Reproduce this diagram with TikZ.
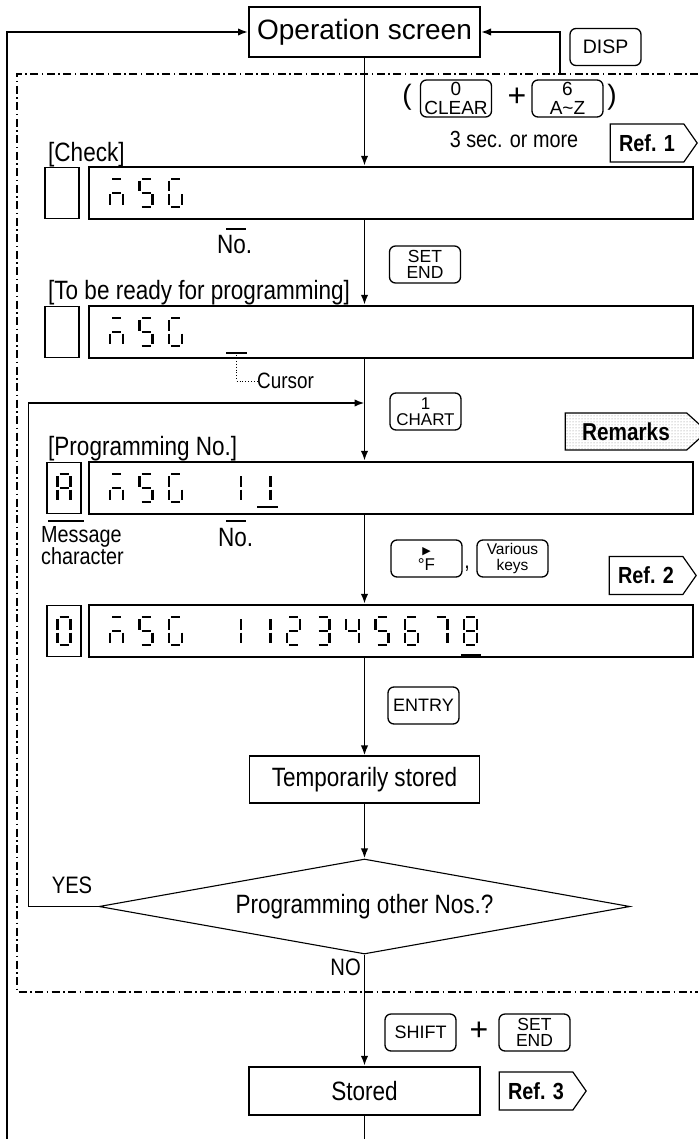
\documentclass[tikz,border=0pt]{standalone}
\usepackage{fontspec}
\setmainfont{Liberation Sans}[FakeStretch=0.85]
\newfontfamily\widefont{Liberation Sans}
\newfontfamily\symfont{DejaVu Sans}
\usepackage{tikz}
\usetikzlibrary{arrows.meta,shapes.geometric,shapes.symbols,patterns}

\newcommand\fsz[1]{\fontsize{#1}{#1}\selectfont}

\def\lcdsega{(2,0) -- (11,0)}
\def\lcdsegb{(13,2) -- (13,12.5)}
\def\lcdsegc{(13,15.5) -- (13,26)}
\def\lcdsegd{(2,28) -- (11,28)}
\def\lcdsege{(0,15.5) -- (0,26)}
\def\lcdsegf{(0,2) -- (0,12.5)}
\def\lcdsegg{(2,14) -- (11,14)}

\newcommand\lcdrow[2]{%
  \foreach \cx/\cs in {#2}{
    \foreach \s in \cs {\draw[seg, shift={(\cx,#1)}] \csname lcdseg\s\endcsname;}
  }}

\begin{document}
\begin{tikzpicture}[
  x=1pt,
  y=-1pt,
  font=\fsz{26.5},
  >={Latex[length=10pt,width=7.5pt]},
  flow/.style={->, line width=1.9pt},
  link/.style={line width=1.9pt},
  dashframe/.style={line width=1.3pt, dash pattern=on 8pt off 3.5pt on 1.5pt off 3.5pt},
  leader/.style={line width=0.9pt, dotted},
  screen/.style={draw, line width=2pt, minimum width=231pt, minimum height=50pt,
    inner sep=0pt, font=\widefont\fsz{28}},
  lcd/.style={draw, line width=2.4pt, minimum width=604pt, minimum height=52pt, inner sep=0pt},
  charbox/.style={draw, line width=1.2pt, minimum width=34pt, minimum height=51pt, inner sep=0pt},
  seg/.style={line width=2.6pt},
  cursorbar/.style={line width=2pt},
  keycap/.style={draw, line width=1.3pt, rounded corners=6pt, minimum width=71pt,
    minimum height=37pt, inner sep=0pt, align=center, font=\widefont\fsz{18}},
  tag/.style={draw, line width=1.2pt, shape=signal, signal to=east, signal pointer angle=110,
    minimum width=87pt, minimum height=38pt, inner sep=0pt, font=\bfseries\fsz{23.3}},
  procbox/.style={draw, line width=1.1pt, minimum width=230pt, minimum height=47pt, inner sep=0pt},
  decision/.style={draw, line width=1.1pt, shape=diamond, aspect=5.6, minimum width=531pt,
    minimum height=95pt, inner sep=0pt},
  note/.style={inner sep=0pt}
]
\useasboundingbox (0,0) rectangle (698,1139);

\draw[dashframe] (698,74) -- (17,74) -- (17,992) -- (698,992);

\node[screen] (opscr) at (364.5,32) {Operation screen};
\node[keycap, font=\widefont\fsz{19.5}] (disp) at (605.5,47) {DISP};
\node[note, font=\widefont\fsz{28}] (lpar) at (407,97) {(};
\node[keycap, font=\widefont\fontsize{19}{19}\selectfont] (clear) at (456,98.5) {0\\CLEAR};
\node[note, font=\widefont\fsz{32}] (plus1) at (517,97) {+};
\node[keycap, font=\widefont\fontsize{19}{19}\selectfont] (atoz) at (567.5,98.5)
  {6\\A\textasciitilde Z};
\node[note, font=\widefont\fsz{28}] (rpar) at (612,97) {)};
\node[note, font=\fsz{23.3}] (hold) at (514,139) {3 sec. or more};
\node[tag] (ref1) at (647,143) {Ref. 1};

\node[note, anchor=base west] (checklbl) at (48,162) {[Check]};
\node[lcd] (lcd1) at (391,193) {};
\node[charbox] (chr1) at (62,193) {};
\lcdrow{179}{110/{a,c,e,g}, 139.5/{a,c,d,f,g}, 169/{a,c,d,e,f}}
\node[note, anchor=base west] (no1) at (217,254) {No.};
\draw[cursorbar] (226,229) -- (246,229);
\node[keycap, font=\widefont\fontsize{17.5}{16.5}\selectfont] (setend1) at (425,264.5) {SET\\END};

\node[note, anchor=base west] (readylbl) at (48,299) {[To be ready for programming]};
\node[lcd] (lcd2) at (391,332) {};
\node[charbox] (chr2) at (62,332) {};
\lcdrow{318}{110/{a,c,e,g}, 139.5/{a,c,d,f,g}, 169/{a,c,d,e,f}}
\draw[cursorbar] (226,353) -- (247,353);
\coordinate (cur2) at (236.5,355);
\node[note, anchor=west, font=\fsz{22.2}] (cursortxt) at (257,381) {Cursor};
\draw[leader] (cur2) |- (cursortxt.west);
\node[keycap, font=\widefont\fontsize{17}{16}\selectfont] (chart) at (425.5,411.5) {1\\CHART};
\node[tag, signal pointer angle=84, minimum width=142pt, minimum height=37pt,
  pattern=dots, pattern color=black!50, font=\bfseries\fsz{24.4}] (remarks) at (626,431.5) {Remarks};

\node[note, anchor=base west] (proglbl) at (48,455) {[Programming No.]};
\node[lcd] (lcd3) at (391,488) {};
\node[charbox] (chr3) at (64,488) {};
\lcdrow{474}{57.5/{a,b,c,e,f,g}, 110/{a,c,e,g}, 139.5/{a,c,d,f,g}, 169/{a,c,d,e,f},
  228/{b,c}, 257.5/{b,c}}
\draw[cursorbar] (257,507) -- (278,507);
\draw[cursorbar] (48,521) -- (84,521);
\draw[cursorbar] (226,521) -- (246,521);
\node[note, anchor=north west, align=left, font=\fontsize{23.3}{21}\selectfont] (msg) at (41,526)
  {Message\\character};
\node[note, anchor=base west] (no2) at (218,546) {No.};
\node[keycap, font=\widefont\fontsize{17}{16}\selectfont] (fkey) at (426.5,558.5)
  {{\symfont\fsz{11}▶}\\°F};
\node[note, anchor=base, font=\fsz{23}] (comma) at (467,568) {,};
\node[keycap, font=\widefont\fontsize{15.5}{16}\selectfont] (various) at (512.5,558.5)
  {Various\\keys};
\node[tag] (ref2) at (646,575.5) {Ref. 2};

\node[lcd] (lcd4) at (391,631) {};
\node[charbox] (chr4) at (64,631) {};
\lcdrow{617}{57.5/{a,b,c,d,e,f}, 110/{a,c,e,g}, 139.5/{a,c,d,f,g}, 169/{a,c,d,e,f},
  228/{b,c}, 257.5/{b,c}, 287/{a,b,d,e,g}, 316.5/{a,b,c,d,g}, 346/{b,c,f,g},
  375.5/{a,c,d,f,g}, 405/{a,c,d,e,f,g}, 434.5/{a,b,c}, 464/{a,b,c,d,e,f,g}}
\draw[cursorbar] (461,655) -- (481,655);
\node[keycap] (entry) at (423.5,705.5) {ENTRY};

\node[procbox] (temp) at (364.5,779.5) {Temporarily stored};
\node[decision] (decide) at (364.5,906.5) {Programming other Nos.?};
\node[note, font=\fsz{23.8}] (yes) at (72,885) {YES};
\node[note, anchor=east, font=\fsz{23.8}] (no) at (361,967) {NO};

\node[keycap] (shift) at (420.5,1032.5) {SHIFT};
\node[note, font=\widefont\fsz{32}] (plus2) at (479,1031) {+};
\node[keycap, font=\widefont\fontsize{17.5}{16.5}\selectfont] (setend2) at (534.5,1032.5) {SET\\END};
\node[procbox, line width=2.4pt, minimum width=231pt, minimum height=48pt] (stored)
  at (364.5,1091) {Stored};
\node[tag] (ref3) at (536,1091) {Ref. 3};

\coordinate (loopfoot) at (7,1139);
\coordinate (dispfoot) at (560,74);
\coordinate (join) at (364.5,403);
\coordinate (endfoot) at (364.5,1139);

\draw[flow] (loopfoot) |- (opscr.west);
\draw[flow] (dispfoot) |- (opscr.east);
\draw[flow] (opscr) -- (opscr |- lcd1.north);
\draw[flow] (lcd1.south -| opscr) -- (lcd2.north -| opscr);
\draw[flow] (lcd2.south -| opscr) -- (lcd3.north -| opscr);
\draw[flow] (lcd3.south -| opscr) -- (lcd4.north -| opscr);
\draw[flow] (lcd4.south -| opscr) -- (temp);
\draw[flow] (temp) -- (decide);
\draw[flow] (decide.west) -- ++(-70,0) |- (join);
\draw[flow] (decide) -- (stored);
\draw[link] (stored) -- (endfoot);

\end{tikzpicture}
\end{document}
